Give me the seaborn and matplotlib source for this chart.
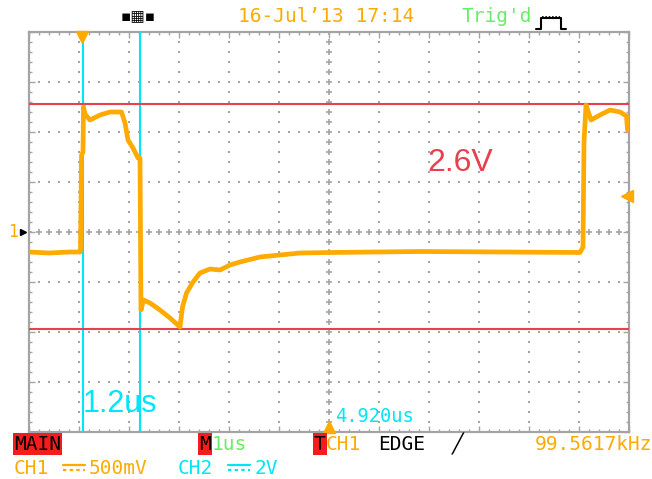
import numpy as np
import matplotlib
matplotlib.use("Agg")
import matplotlib.pyplot as plt
from matplotlib.lines import Line2D
import seaborn as sns

# CH1 trace, time in us (1 us/div, left edge = 0), volts (500 mV/div, 0 = marker "1")
t_us = [0.00, 0.40, 0.80, 1.02, 1.03, 1.05, 1.08, 1.09, 1.12, 1.22, 1.42, 1.62,
        1.85, 1.92, 1.98, 2.08, 2.18, 2.22, 2.24, 2.29, 2.42, 2.62, 2.82, 3.02,
        3.07, 3.15, 3.28, 3.42, 3.62, 3.82, 4.02, 4.22, 4.62, 5.42, 6.02, 7.82,
        9.50, 11.02, 11.08, 11.10, 11.14, 11.24, 11.42, 11.62, 11.82, 11.95, 11.97]
ch1_v = [-0.20, -0.21, -0.20, -0.20, -0.18, 0.77, 0.80, 1.25, 1.18, 1.12, 1.17, 1.20,
         1.20, 1.09, 0.92, 0.84, 0.74, 0.74, -0.78, -0.68, -0.71, -0.78, -0.86, -0.95,
         -0.75, -0.61, -0.50, -0.41, -0.37, -0.38, -0.33, -0.30, -0.25, -0.21, -0.205, -0.195,
         -0.20, -0.205, -0.15, 0.90, 1.27, 1.12, 1.17, 1.22, 1.20, 1.16, 1.02]

cursor_t = [1.07, 2.22]
level_v = [1.28, -0.97]
trig_t = 1.06
trig_level = 0.36
delay_t = 6.0

orange = '#ffaa00'
cyan = '#00e6f6'
red = '#e8404c'
green = '#66ee66'
gray = '#a4a4a4'

sns.set_theme(style="white")
plt.rcParams['font.family'] = ['DejaVu Sans Mono', 'DejaVu Sans']

W, H = 652, 479
fig = plt.figure(figsize=(W / 100, H / 100), dpi=100)
fig.patch.set_facecolor('white')
ax = fig.add_axes([29 / W, 47 / H, 600 / W, 400 / H])
ax.set_xlim(0, 12)
ax.set_ylim(-2, 2)

# graticule
ax.set_xticks(np.arange(0, 12.01, 1))
ax.set_xticks(np.arange(0, 12.01, 0.2), minor=True)
ax.set_yticks(np.arange(-2, 2.01, 0.5))
ax.set_yticks(np.arange(-2, 2.01, 0.1), minor=True)
ax.tick_params(which='both', direction='in', top=True, right=True, bottom=True, left=True,
               labelbottom=False, labelleft=False, color=gray, width=1)
ax.tick_params(which='major', length=4)
ax.tick_params(which='minor', length=2.5)
ax.grid(True, which='major', color=gray, linestyle=(0.5, (1, 4)), linewidth=1.44)
for s in ax.spines.values():
    s.set_color(gray)
    s.set_linewidth(1.6)
ax.plot(np.arange(0, 12.01, 0.2), np.zeros(61), '+', color=gray, markersize=4, mew=1.2)
ax.plot(np.full(41, 6.0), np.arange(-2, 2.01, 0.1), '+', color=gray, markersize=4, mew=1.2)

# cursors and levels
for c in cursor_t:
    ax.axvline(c, color=cyan, lw=1.5, zorder=3)
for v in level_v:
    ax.axhline(v, color=red, lw=1.5, zorder=3)

sns.lineplot(x=t_us, y=ch1_v, ax=ax, color=orange, linewidth=3.4,
             estimator=None, sort=False, zorder=4)

# markers
ax.plot(trig_t, 1.95, marker='v', color=orange, markersize=8, clip_on=False, zorder=5)
ax.plot(delay_t, -1.95, marker='^', color=orange, markersize=8, clip_on=False, zorder=5)
ax.plot(11.95, trig_level, marker='<', color=orange, markersize=8, clip_on=False, zorder=5)
ax.plot(-0.12, 0, marker='>', color='black', markersize=5, clip_on=False, zorder=5)
ax.text(-0.32, 0, '1', color=orange, fontsize=12, ha='center', va='center')

ax.text(7.96, 0.69, '2.6V', color=red, fontsize=23, family='Liberation Sans',
        ha='left', va='center')
ax.text(1.08, -1.72, '1.2us', color=cyan, fontsize=22, family='Liberation Sans',
        ha='left', va='center')
ax.text(6.12, -1.84, '4.920us', color=cyan, fontsize=13.5, ha='left', va='center')


def ftext(x, y, s, size=14, **kw):
    fig.text(x / W, 1 - y / H, s, va='center', fontsize=size, **kw)


def dc_symbol(x, y, color):
    # the "⎓" glyph is missing from every installed font, so draw it
    fig.add_artist(Line2D([x / W, (x + 22) / W], [1 - (y - 3) / H] * 2, color=color, lw=1.6))
    fig.add_artist(Line2D([x / W, (x + 22) / W], [1 - (y + 2) / H] * 2, color=color, lw=1.6,
                          linestyle=(0, (1.5, 1.5))))


# top bar
ftext(121, 17, '▪▦▪', size=11, color='black', family='DejaVu Sans')
ftext(238, 17, '16-Jul\u201913 17:14', color=orange)
ftext(462, 17, "Trig'd", color=green)
fig.add_artist(Line2D(np.array([536, 541, 541, 561, 561, 566]) / W,
                      1 - np.array([29, 29, 18, 18, 29, 29]) / H,
                      color='black', lw=1.5))
fig.add_artist(Line2D(np.array([542, 560]) / W, 1 - np.array([16.5, 16.5]) / H,
                      color='black', lw=1.2, linestyle=(0, (1, 1))))

# bottom bar
box = dict(boxstyle='square,pad=0.06', fc='#f41c1c', ec='none')
ftext(14, 444, 'MAIN', color='black', bbox=box)
ftext(199, 444, 'M', color='black', bbox=box)
ftext(212, 444, '1us', color=green)
ftext(314, 444, 'T', color='black', bbox=box)
ftext(326, 444, 'CH1', color=orange)
ftext(378, 444, 'EDGE', color='black')
ftext(452, 444, '\u2571', color='black')
fig.text(652 / W, 1 - 444 / H, '99.5617kHz', color=orange, fontsize=14,
         ha='right', va='center')
ftext(14, 468, 'CH1', color=orange)
dc_symbol(63, 468, orange)
ftext(89, 468, '500mV', color=orange)
ftext(178, 468, 'CH2', color=cyan)
dc_symbol(228, 468, cyan)
ftext(254, 468, '2V', color=cyan)

fig.savefig('out.png', dpi=100)
